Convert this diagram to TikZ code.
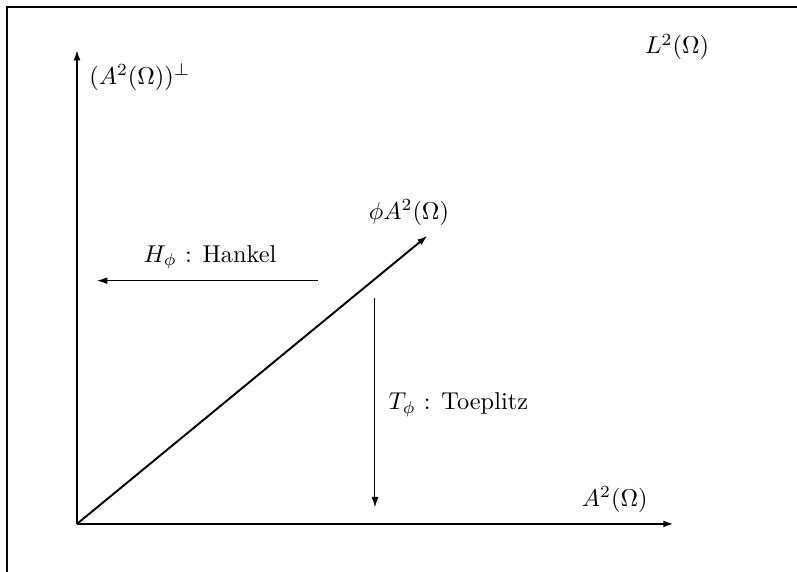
\documentclass[tikz,border=0pt]{standalone}
\usetikzlibrary{arrows.meta, positioning}
\tikzset{
  axis/.style={-{Latex[length=1.5mm, width=1mm]}, line width=0.8pt},
  opmap/.style={-{Latex[length=1.5mm, width=1mm]}, line width=0.4pt},
  lbl/.style={inner sep=2pt},
}

\begin{document}
\begin{tikzpicture}[
    frame/.style={line width=0.7pt},
  ]
  \useasboundingbox (-1.111,-0.693) rectangle (10.39,7.56);
  % frame
  \coordinate (fl) at (-1.01,-0.75);
  \coordinate (fc) at (-1.01,7.46);
  \coordinate (fr) at (10.45,7.46);
  \draw[frame] (fl) -- (fc) -- (fr);

  % axes
  \coordinate (O) at (0,0);
  \coordinate (ytip) at (0,6.84);
  \coordinate (xtip) at (8.61,0);
  \coordinate (dtip) at (5.06,4.16);
  \draw[axis] (O) -- (ytip);
  \draw[axis] (O) -- (xtip);
  \draw[axis] (O) -- (dtip);
  \node[lbl, anchor=west] (perp) at (0.1,6.45) {$(A^2(\Omega))^{\perp}$};
  \node[lbl] (ltwo) at (8.66,6.88) {$L^2(\Omega)$};
  \node[lbl] (atwo) at (7.76,0.35) {$A^2(\Omega)$};
  \node[lbl] (phia) at (4.79,4.49) {$\phi A^2(\Omega)$};

  % operators
  \coordinate (hs) at (3.48,3.51);
  \coordinate (he) at (0.29,3.51);
  \draw[opmap] (hs) -- (he);
  \node[lbl] (hankel) at (1.92,3.85) {$H_\phi$ : Hankel};
  \coordinate (ts) at (4.30,3.26);
  \coordinate (te) at (4.30,0.24);
  \draw[opmap] (ts) -- (te);
  \node[lbl, anchor=west] (toep) at (4.42,1.72) {$T_\phi$ : Toeplitz};
\end{tikzpicture}
\end{document}
